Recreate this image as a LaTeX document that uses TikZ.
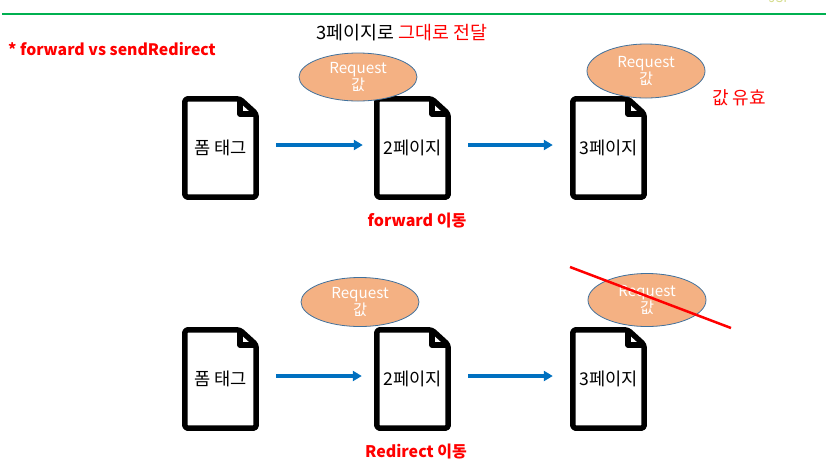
\documentclass[tikz,border=0pt]{standalone}
\usepackage{fontspec}
\setmainfont{Noto Sans CJK KR}
\usetikzlibrary{shapes.geometric,arrows.meta,calc}
\definecolor{arrblue}{HTML}{0070C0}
\definecolor{ellfill}{HTML}{F4B183}
\definecolor{elldraw}{HTML}{41719C}
\definecolor{topgreen}{HTML}{00B050}
\definecolor{jspcol}{HTML}{D4DC8C}
\begin{document}
\begin{tikzpicture}[x=1pt,y=-1pt,
  docbox/.style={minimum width=71pt,minimum height=98pt,inner sep=0pt,font=\fontsize{17.6}{20}\selectfont},
  docline/.style={line width=5.5pt,line join=round,rounded corners=3pt},
  foldline/.style={line width=5.5pt,line join=round},
  reqell/.style={ellipse,draw=elldraw,line width=0.8pt,fill=ellfill,inner sep=0pt,minimum width=118pt},
  reqtxt/.style={text=white,inner sep=0pt,align=center,font=\fontsize{15.2}{17}\selectfont},
  arr/.style={draw=arrblue,line width=3.2pt,-{Triangle[length=9pt,width=10pt]}},
  lbl/.style={text=red,font=\bfseries\fontsize{16}{19}\selectfont,inner sep=0pt},
  plain/.style={font=\fontsize{17}{20}\selectfont,inner sep=0pt},
]
\useasboundingbox (0,0) rectangle (826,475);
\draw[topgreen,line width=2pt] (2,14) -- (826,14);
\node[text=jspcol,font=\fontsize{13}{15}\selectfont,anchor=south,inner sep=0pt] (jsp) at (780,3) {JSP};

\node[lbl,anchor=west,font=\bfseries\fontsize{15.8}{19}\selectfont] (title) at (8,49) {* forward vs sendRedirect};
\node[plain,anchor=west,font=\fontsize{18.4}{21}\selectfont] (toptext) at (316,33) {3페이지로 \textcolor{red}{그대로 전달}};
\node[plain,anchor=west,text=red,font=\fontsize{18}{21}\selectfont] (valid) at (712,98) {값 유효};

% documents
\node[docbox] (a1) at (220.5,148) {폼 태그};
\node[docbox] (a2) at (412.5,148) {2페이지};
\node[docbox] (a3) at (608.5,148) {3페이지};
\node[docbox] (b1) at (220.5,379) {폼 태그};
\node[docbox] (b2) at (412.5,379) {2페이지};
\node[docbox] (b3) at (608.5,379) {3페이지};
\foreach \n in {a1,a2,a3,b1,b2,b3}{
  \draw[docline] (\n.north west) -- ([xshift=55pt]\n.north west) -- ([yshift=-15pt]\n.north east) -- (\n.south east) -- (\n.south west) -- cycle;
  \draw[foldline] ([xshift=55pt]\n.north west) -- ([xshift=55pt,yshift=-15pt]\n.north west) -- ([yshift=-15pt]\n.north east);
}

% request ellipses
\node[reqell,minimum height=48pt] (e1) at (358,77) {};
\node[reqtxt] (t1) at (e1) {Request\\값};
\node[reqell,minimum height=54pt] (e2) at (646,71) {};
\node[reqtxt] (t2) at (e2) {Request\\값};
\node[reqell,minimum height=49pt] (e3) at (360,302) {};
\node[reqtxt] (t3) at (e3) {Request\\값};
\node[reqell,minimum height=53pt] (e4) at (647,300) {};
\node[reqtxt] (t4) at (e4) {Request\\값};

% arrows
\draw[arr,shorten <=20pt,shorten >=14pt] ([yshift=3pt]a1.east) -- ([yshift=3pt]a2.west);
\draw[arr,shorten <=20pt,shorten >=20pt] ([yshift=3pt]a2.east) -- ([yshift=3pt]a3.west);
\draw[arr,shorten <=20pt,shorten >=15pt] ([yshift=3pt]b1.east) -- ([yshift=3pt]b2.west);
\draw[arr,shorten <=20pt,shorten >=20pt] ([yshift=3pt]b2.east) -- ([yshift=3pt]b3.west);

% labels
\node[lbl] (fwd) at (417,221) {forward 이동};
\node[lbl] (red) at (416,452) {Redirect 이동};

% cross-out
\coordinate (x1) at (570,267);
\coordinate (x2) at (731,328);
\draw[red,line width=2.5pt] (x1) -- (x2);
\end{tikzpicture}
\end{document}
